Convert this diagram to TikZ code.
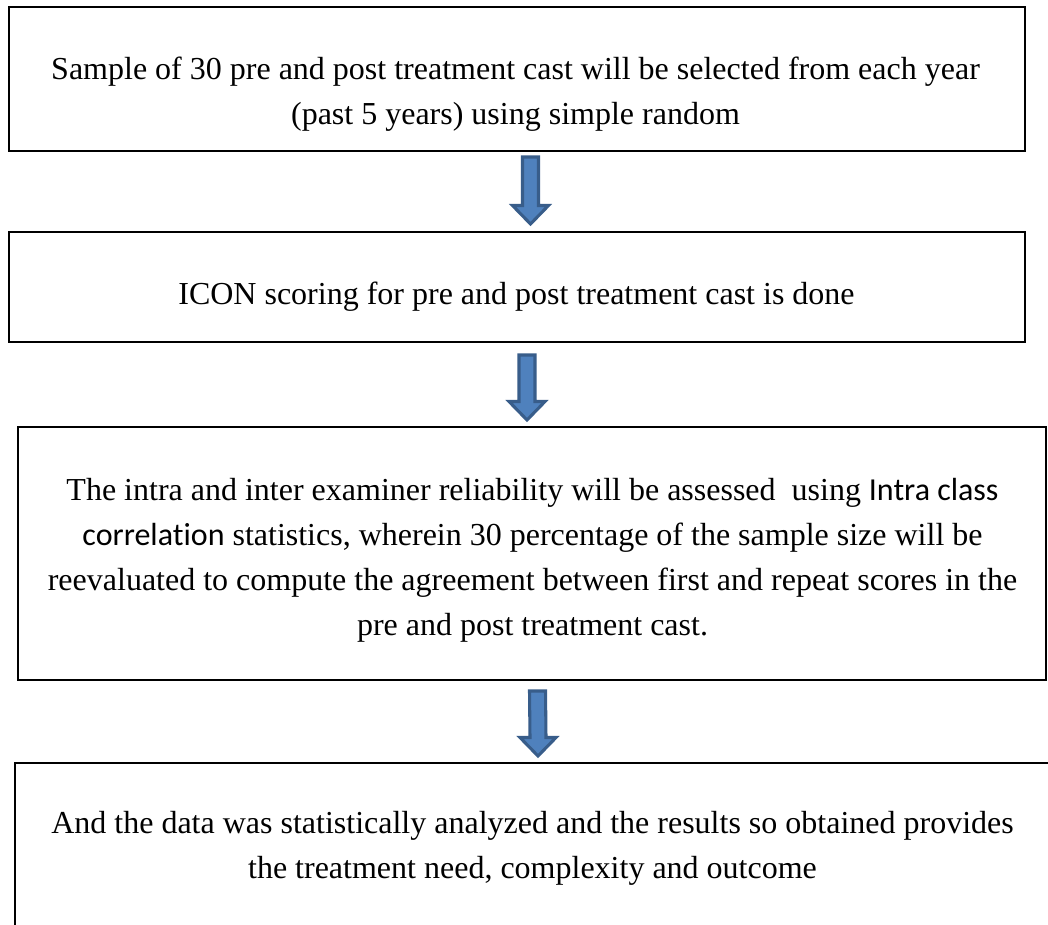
\documentclass[tikz,border=0pt]{standalone}
\usepackage{fontspec}
\setmainfont{Liberation Serif}
\newfontfamily\calfont[Ligatures=NoCommon]{Carlito}
\usetikzlibrary{calc}
\definecolor{arrowfill}{HTML}{4F81BD}
\definecolor{arrowline}{HTML}{385D8A}
\tikzset{
  stepbox/.style={draw=black, line width=1.5pt, rectangle, inner sep=0pt, fill=none},
  steptext/.style={align=center, inner sep=0pt, font=\fontsize{24}{33.75}\selectfont},
  blockarrow/.style={draw=arrowline, fill=arrowfill, line width=2.3pt, line join=miter},
}
\newcommand\downblock[2]{%
  \draw[blockarrow] ($(#1)+(-8,0)$) -- ($(#2)+(-8,-18.5)$) -- ($(#2)+(-18,-18.5)$) -- (#2)
    -- ($(#2)+(18,-18.5)$) -- ($(#2)+(8,-18.5)$) -- ($(#1)+(8,0)$) -- cycle;}
\begin{document}
\begin{tikzpicture}[x=0.75pt,y=-0.75pt]
\useasboundingbox (0,0) rectangle (1048,924);
\clip (0,0) rectangle (1048,924);
\fill[white] (0,0) rectangle (1048,924);

% boxes
\node[stepbox, minimum width=1016*0.75pt, minimum height=144*0.75pt] (b1) at (517,79) {};
\node[stepbox, minimum width=1016*0.75pt, minimum height=110*0.75pt] (b2) at (517,287) {};
\node[stepbox, minimum width=1028*0.75pt, minimum height=253*0.75pt] (b3) at (532,553.5) {};
\node[stepbox, minimum width=1045*0.75pt, minimum height=237*0.75pt] (b4) at (537.5,881.5) {};

% texts
\node[steptext] (t1) at (515.5,92.5) {\strut Sample of 30 pre and post treatment cast will be selected from each year\\
\strut (past 5 years) using simple random};
\node[steptext] (t2) at (516.5,295) {\strut ICON scoring for pre and post treatment cast is done};
\node[steptext] (t3) at (532.5,558.5) {\strut The intra and inter examiner reliability will be assessed\ \ using {\calfont Intra class}\\
\strut {\calfont correlation} statistics, wherein 30 percentage of the sample size will be\\
\strut reevaluated to compute the agreement between first and repeat scores in the\\
\strut pre and post treatment cast.};
\node[steptext] (t4) at (532.5,846.5) {\strut And the data was statistically analyzed and the results so obtained provides\\
\strut the treatment need, complexity and outcome};

% arrows
\coordinate (a1s) at ($(b1.south)+(13.5,5)$);
\coordinate (a1e) at ($(b2.north)+(13.5,-7)$);
\coordinate (a2s) at ($(b2.south)+(10,12)$);
\coordinate (a2e) at ($(b3.north)+(-5,-6)$);
\coordinate (a3s) at ($(b3.south)+(5.5,10)$);
\coordinate (a3e) at ($(b4.north)+(0.5,-6)$);
\downblock{a1s}{a1e}
\downblock{a2s}{a2e}
\downblock{a3s}{a3e}
\end{tikzpicture}
\end{document}
